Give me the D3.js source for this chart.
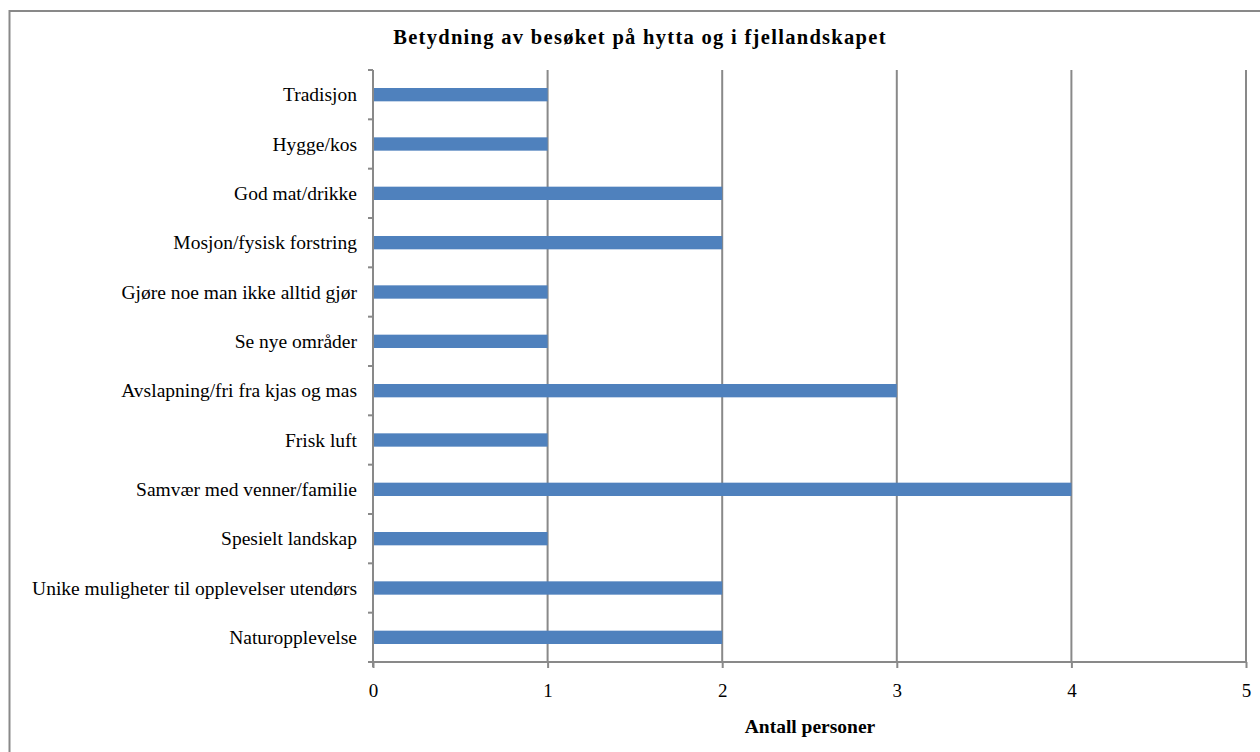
<!DOCTYPE html>
<html>
<head>
<meta charset="utf-8">
<script src="https://cdn.jsdelivr.net/npm/d3@7"></script>
<style>
	body { margin: 0; background: #fff; }
	text { font-family: "Liberation Serif", "Times New Roman", serif; fill: #000; }
</style>
</head>
<body>
<svg id="chart" width="1260" height="752"></svg>
<script>
// categories top to bottom, as in the chart
var categories = [
	"Tradisjon",
	"Hygge/kos",
	"God mat/drikke",
	"Mosjon/fysisk forstring",
	"Gjøre noe man ikke alltid gjør",
	"Se nye områder",
	"Avslapning/fri fra kjas og mas",
	"Frisk luft",
	"Samvær med venner/familie",
	"Spesielt landskap",
	"Unike muligheter til opplevelser utendørs",
	"Naturopplevelse"
]
var values = [1, 1, 2, 2, 1, 1, 3, 1, 4, 1, 2, 2]
var xTicks = [0, 1, 2, 3, 4, 5]

var title = "Betydning av besøket på hytta og i fjellandskapet"
var xTitle = "Antall personer"

var svg = d3.select("#chart")
var plotL = 373, plotR = 1246, plotT = 70, plotB = 662
var gray = "#898989"

// outer frame
svg.append("rect")
.attr("x", 9.5).attr("y", 11).attr("width", 1270).attr("height", 760)
.attr("fill", "none").attr("stroke", gray).attr("stroke-width", 2)

var x = d3.scaleLinear().domain([0, 5]).range([plotL, plotR])
var y = d3.scaleBand().domain(categories).range([plotT, plotB]).paddingInner(0.73).paddingOuter(0.365)

// grid lines
svg.append("g")
.selectAll("line")
.data(xTicks.slice(1))
.join("line")
.attr("x1", d => x(d)).attr("x2", d => x(d))
.attr("y1", plotT).attr("y2", plotB)
.attr("stroke", gray).attr("stroke-width", 2)

// bars
svg.append("g")
.selectAll("rect")
.data(values)
.join("rect")
.attr("x", x(0))
.attr("y", (d, i) => y(categories[i]))
.attr("width", d => x(d) - x(0))
.attr("height", y.bandwidth())
.attr("fill", "#4f81bd")

// category axis with ticks at band boundaries
var step = (plotB - plotT) / categories.length
var yb = d3.range(categories.length + 1).map(i => plotT + i * step)
var yAxis = svg.append("g")
yAxis.append("line")
.attr("x1", plotL).attr("x2", plotL).attr("y1", plotT).attr("y2", plotB + 5)
.attr("stroke", gray).attr("stroke-width", 2)
yAxis.selectAll(".tk")
.data(yb)
.join("line")
.attr("class", "tk")
.attr("x1", plotL - 5).attr("x2", plotL)
.attr("y1", d => d).attr("y2", d => d)
.attr("stroke", gray).attr("stroke-width", 2)
yAxis.selectAll(".lbl")
.data(categories)
.join("text")
.attr("class", "lbl")
.attr("x", plotL - 16)
.attr("y", d => y(d) + y.bandwidth() / 2)
.attr("dy", "0.35em")
.attr("text-anchor", "end")
.style("font-size", "19.5px")
.text(d => d)

// value axis
var xAxis = svg.append("g")
.attr("transform", "translate(0," + plotB + ")")
.call(d3.axisBottom(x).tickValues(xTicks).tickSize(6).tickPadding(16).tickFormat(d3.format("d")))
xAxis.select(".domain").attr("stroke", gray).attr("stroke-width", 2).attr("d", "M" + (plotL - 5) + ",0H" + plotR)
xAxis.selectAll(".tick line").attr("stroke", gray).attr("stroke-width", 2)
xAxis.selectAll(".tick text")
.style("font-family", "'Liberation Serif', serif")
.style("font-size", "19px")
.attr("fill", "#000")

svg.append("text")
.attr("x", 640).attr("y", 44)
.attr("text-anchor", "middle")
.style("font-size", "20.5px").style("font-weight", "bold").style("letter-spacing", "1.3px")
.text(title)

svg.append("text")
.attr("x", 810).attr("y", 733)
.attr("text-anchor", "middle")
.style("font-size", "19.5px").style("font-weight", "bold")
.text(xTitle)
</script>
</body>
</html>
